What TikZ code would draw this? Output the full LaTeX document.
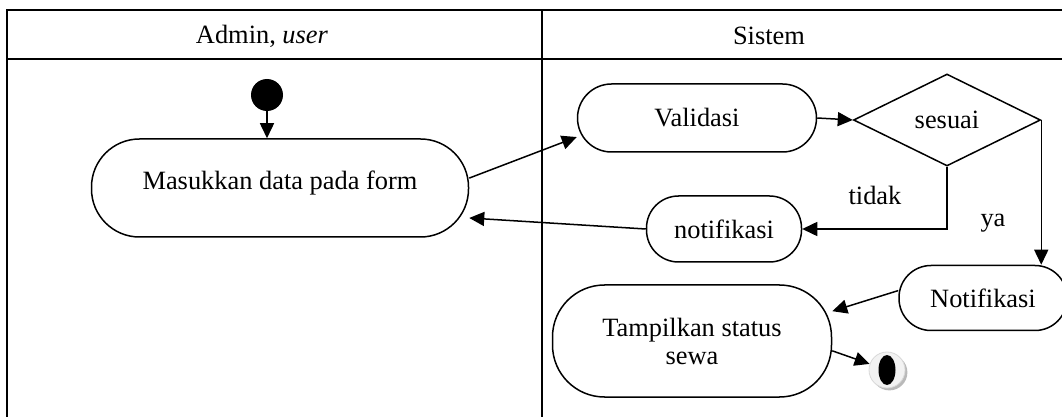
\documentclass[tikz,border=0pt]{standalone}
\usepackage{fontspec}
\setmainfont{Liberation Serif}
\usepackage{tikz}
\usetikzlibrary{shapes.geometric,arrows.meta,shadows}
\tikzstyle{Activity}=[rectangle, draw=black, line width=0.75pt, align=center, inner sep=0pt]
\tikzstyle{Decision}=[diamond, draw=black, line width=0.75pt, inner sep=0pt, minimum width=93.5pt, minimum height=46pt]
\tikzstyle{Flow}=[line width=0.75pt, -{Triangle[length=7.5pt,width=7pt]}]
\tikzstyle{Lane}=[line width=1pt]

\begin{document}
\begin{tikzpicture}[x=0.5pt, y=-0.5pt, font=\fontsize{13.2}{14}\selectfont]
    \useasboundingbox (0,0) rectangle (1062,417);

    % swimlanes
    \draw[Lane] (7,417) -- (7,10.5) -- (1062,10.5);
    \draw[Lane] (7,59) -- (1062,59);
    \draw[Lane] (542,10.5) -- (542,417);
    \path
    (262,36) node (laneA) {Admin, \textit{user}}
    (769,36) node (laneB) {Sistem};

    \path
    (267,95) node[circle, fill=black, minimum size=16pt, inner sep=0pt] (start) {}
    (280,188) node[Activity, minimum width=188.5pt, minimum height=49pt, rounded corners=24pt, text depth=8pt] (input) {Masukkan data pada form}
    (697,118) node[Activity, minimum width=119.5pt, minimum height=34pt, rounded corners=17pt] (valid) {Validasi}
    (947,120) node[Decision] (check) {sesuai}
    (724,229) node[Activity, minimum width=77.5pt, minimum height=33pt, rounded corners=16pt] (notif1) {notifikasi}
    (983,298) node[Activity, minimum width=84pt, minimum height=32.5pt, rounded corners=16pt] (notif2) {Notifikasi}
    (692,341) node[Activity, minimum width=139.5pt, minimum height=56pt, rounded corners=26pt] (show) {Tampilkan status\\ sewa}
    (887,370) node[circle, minimum size=18pt, inner sep=0pt, fill=gray!10, draw=gray!30, drop shadow={shadow xshift=1.2pt, shadow yshift=-1.2pt, fill=gray!55, opacity=1}] (end) {};
    \fill (end.center) ellipse (4.25pt and 7.5pt);

    \path
    (875,195) node (no) {tidak}
    (993,223) node (yes) {ya};

    \draw[Flow] (start) -- (start |- input.north);
    \draw[Flow] (input.3) -- (valid.189);
    \draw[Flow] (valid.east) -- (check.west);
    \draw[Flow] (check.south) |- (notif1.east);
    \draw[Flow] (check.east) -- (check.east |- notif2.north);
    \draw[Flow] (notif1.west) -- (input.-9);
    \draw[Flow] (notif2.175) -- (show.12);
    \draw[Flow] (show.-4) -- (end);
\end{tikzpicture}
\end{document}
